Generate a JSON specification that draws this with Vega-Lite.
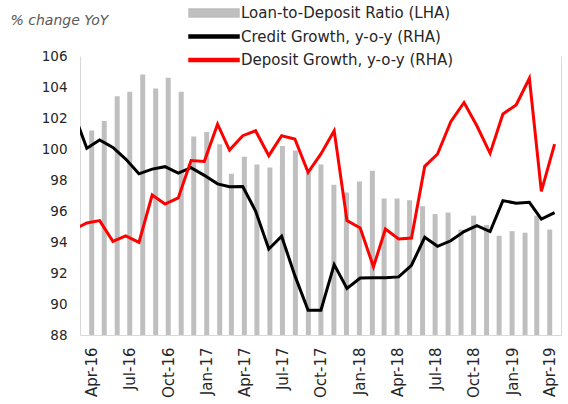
{
  "$schema": "https://vega.github.io/schema/vega-lite/v6.json",
  "width": 481,
  "height": 279,
  "autosize": {"type": "none"},
  "padding": {"left": 80, "top": 56, "right": 7, "bottom": 69},
  "config": {"view": {"stroke": null}, "font": "DejaVu Sans"},
  "datasets": {
    "ldr": [
      {"date": "2016-04-01", "value": 101.2}, {"date": "2016-05-01", "value": 101.8}, {"date": "2016-06-01", "value": 103.4},
      {"date": "2016-07-01", "value": 103.7}, {"date": "2016-08-01", "value": 104.8}, {"date": "2016-09-01", "value": 103.9},
      {"date": "2016-10-01", "value": 104.6}, {"date": "2016-11-01", "value": 103.7}, {"date": "2016-12-01", "value": 100.8},
      {"date": "2017-01-01", "value": 101.1}, {"date": "2017-02-01", "value": 100.3}, {"date": "2017-03-01", "value": 98.4},
      {"date": "2017-04-01", "value": 99.5}, {"date": "2017-05-01", "value": 99.0}, {"date": "2017-06-01", "value": 98.8},
      {"date": "2017-07-01", "value": 100.2}, {"date": "2017-08-01", "value": 99.9}, {"date": "2017-09-01", "value": 98.5},
      {"date": "2017-10-01", "value": 99.0}, {"date": "2017-11-01", "value": 97.7}, {"date": "2017-12-01", "value": 97.2},
      {"date": "2018-01-01", "value": 97.9}, {"date": "2018-02-01", "value": 98.6}, {"date": "2018-03-01", "value": 96.8},
      {"date": "2018-04-01", "value": 96.8}, {"date": "2018-05-01", "value": 96.7}, {"date": "2018-06-01", "value": 96.3},
      {"date": "2018-07-01", "value": 95.8}, {"date": "2018-08-01", "value": 95.9}, {"date": "2018-09-01", "value": 94.8},
      {"date": "2018-10-01", "value": 95.7}, {"date": "2018-11-01", "value": 95.1}, {"date": "2018-12-01", "value": 94.4},
      {"date": "2019-01-01", "value": 94.7}, {"date": "2019-02-01", "value": 94.6}, {"date": "2019-03-01", "value": 95.7},
      {"date": "2019-04-01", "value": 94.8}
    ],
    "growth": [
      {"date": "2016-03-01", "series": "Credit Growth, y-o-y  (RHA)", "value": 102.35},
      {"date": "2016-04-01", "series": "Credit Growth, y-o-y  (RHA)", "value": 100.05},
      {"date": "2016-05-01", "series": "Credit Growth, y-o-y  (RHA)", "value": 100.58},
      {"date": "2016-06-01", "series": "Credit Growth, y-o-y  (RHA)", "value": 100.1},
      {"date": "2016-07-01", "series": "Credit Growth, y-o-y  (RHA)", "value": 99.35},
      {"date": "2016-08-01", "series": "Credit Growth, y-o-y  (RHA)", "value": 98.4},
      {"date": "2016-09-01", "series": "Credit Growth, y-o-y  (RHA)", "value": 98.7},
      {"date": "2016-10-01", "series": "Credit Growth, y-o-y  (RHA)", "value": 98.86},
      {"date": "2016-11-01", "series": "Credit Growth, y-o-y  (RHA)", "value": 98.45},
      {"date": "2016-12-01", "series": "Credit Growth, y-o-y  (RHA)", "value": 98.8},
      {"date": "2017-01-01", "series": "Credit Growth, y-o-y  (RHA)", "value": 98.3},
      {"date": "2017-02-01", "series": "Credit Growth, y-o-y  (RHA)", "value": 97.75},
      {"date": "2017-03-01", "series": "Credit Growth, y-o-y  (RHA)", "value": 97.57},
      {"date": "2017-04-01", "series": "Credit Growth, y-o-y  (RHA)", "value": 97.58},
      {"date": "2017-05-01", "series": "Credit Growth, y-o-y  (RHA)", "value": 96.0},
      {"date": "2017-06-01", "series": "Credit Growth, y-o-y  (RHA)", "value": 93.55},
      {"date": "2017-07-01", "series": "Credit Growth, y-o-y  (RHA)", "value": 94.37},
      {"date": "2017-08-01", "series": "Credit Growth, y-o-y  (RHA)", "value": 91.83},
      {"date": "2017-09-01", "series": "Credit Growth, y-o-y  (RHA)", "value": 89.6},
      {"date": "2017-10-01", "series": "Credit Growth, y-o-y  (RHA)", "value": 89.6},
      {"date": "2017-11-01", "series": "Credit Growth, y-o-y  (RHA)", "value": 92.54},
      {"date": "2017-12-01", "series": "Credit Growth, y-o-y  (RHA)", "value": 91.0},
      {"date": "2018-01-01", "series": "Credit Growth, y-o-y  (RHA)", "value": 91.68},
      {"date": "2018-02-01", "series": "Credit Growth, y-o-y  (RHA)", "value": 91.7},
      {"date": "2018-03-01", "series": "Credit Growth, y-o-y  (RHA)", "value": 91.7},
      {"date": "2018-04-01", "series": "Credit Growth, y-o-y  (RHA)", "value": 91.75},
      {"date": "2018-05-01", "series": "Credit Growth, y-o-y  (RHA)", "value": 92.5},
      {"date": "2018-06-01", "series": "Credit Growth, y-o-y  (RHA)", "value": 94.3},
      {"date": "2018-07-01", "series": "Credit Growth, y-o-y  (RHA)", "value": 93.72},
      {"date": "2018-08-01", "series": "Credit Growth, y-o-y  (RHA)", "value": 94.08},
      {"date": "2018-09-01", "series": "Credit Growth, y-o-y  (RHA)", "value": 94.67},
      {"date": "2018-10-01", "series": "Credit Growth, y-o-y  (RHA)", "value": 95.05},
      {"date": "2018-11-01", "series": "Credit Growth, y-o-y  (RHA)", "value": 94.67},
      {"date": "2018-12-01", "series": "Credit Growth, y-o-y  (RHA)", "value": 96.67},
      {"date": "2019-01-01", "series": "Credit Growth, y-o-y  (RHA)", "value": 96.5},
      {"date": "2019-02-01", "series": "Credit Growth, y-o-y  (RHA)", "value": 96.56},
      {"date": "2019-03-01", "series": "Credit Growth, y-o-y  (RHA)", "value": 95.48},
      {"date": "2019-04-01", "series": "Credit Growth, y-o-y  (RHA)", "value": 95.9},
      {"date": "2016-03-01", "series": "Deposit Growth, y-o-y (RHA)", "value": 94.8},
      {"date": "2016-04-01", "series": "Deposit Growth, y-o-y (RHA)", "value": 95.23},
      {"date": "2016-05-01", "series": "Deposit Growth, y-o-y (RHA)", "value": 95.38},
      {"date": "2016-06-01", "series": "Deposit Growth, y-o-y (RHA)", "value": 94.04},
      {"date": "2016-07-01", "series": "Deposit Growth, y-o-y (RHA)", "value": 94.4},
      {"date": "2016-08-01", "series": "Deposit Growth, y-o-y (RHA)", "value": 93.98},
      {"date": "2016-09-01", "series": "Deposit Growth, y-o-y (RHA)", "value": 97.03},
      {"date": "2016-10-01", "series": "Deposit Growth, y-o-y (RHA)", "value": 96.45},
      {"date": "2016-11-01", "series": "Deposit Growth, y-o-y (RHA)", "value": 96.84},
      {"date": "2016-12-01", "series": "Deposit Growth, y-o-y (RHA)", "value": 99.25},
      {"date": "2017-01-01", "series": "Deposit Growth, y-o-y (RHA)", "value": 99.2},
      {"date": "2017-02-01", "series": "Deposit Growth, y-o-y (RHA)", "value": 101.6},
      {"date": "2017-03-01", "series": "Deposit Growth, y-o-y (RHA)", "value": 99.93},
      {"date": "2017-04-01", "series": "Deposit Growth, y-o-y (RHA)", "value": 100.86},
      {"date": "2017-05-01", "series": "Deposit Growth, y-o-y (RHA)", "value": 101.18},
      {"date": "2017-06-01", "series": "Deposit Growth, y-o-y (RHA)", "value": 99.57},
      {"date": "2017-07-01", "series": "Deposit Growth, y-o-y (RHA)", "value": 100.86},
      {"date": "2017-08-01", "series": "Deposit Growth, y-o-y (RHA)", "value": 100.65},
      {"date": "2017-09-01", "series": "Deposit Growth, y-o-y (RHA)", "value": 98.5},
      {"date": "2017-10-01", "series": "Deposit Growth, y-o-y (RHA)", "value": 99.68},
      {"date": "2017-11-01", "series": "Deposit Growth, y-o-y (RHA)", "value": 101.18},
      {"date": "2017-12-01", "series": "Deposit Growth, y-o-y (RHA)", "value": 95.38},
      {"date": "2018-01-01", "series": "Deposit Growth, y-o-y (RHA)", "value": 94.9},
      {"date": "2018-02-01", "series": "Deposit Growth, y-o-y (RHA)", "value": 92.4},
      {"date": "2018-03-01", "series": "Deposit Growth, y-o-y (RHA)", "value": 94.84},
      {"date": "2018-04-01", "series": "Deposit Growth, y-o-y (RHA)", "value": 94.2},
      {"date": "2018-05-01", "series": "Deposit Growth, y-o-y (RHA)", "value": 94.26},
      {"date": "2018-06-01", "series": "Deposit Growth, y-o-y (RHA)", "value": 98.88},
      {"date": "2018-07-01", "series": "Deposit Growth, y-o-y (RHA)", "value": 99.68},
      {"date": "2018-08-01", "series": "Deposit Growth, y-o-y (RHA)", "value": 101.76},
      {"date": "2018-09-01", "series": "Deposit Growth, y-o-y (RHA)", "value": 103.0},
      {"date": "2018-10-01", "series": "Deposit Growth, y-o-y (RHA)", "value": 101.5},
      {"date": "2018-11-01", "series": "Deposit Growth, y-o-y (RHA)", "value": 99.72},
      {"date": "2018-12-01", "series": "Deposit Growth, y-o-y (RHA)", "value": 102.26},
      {"date": "2019-01-01", "series": "Deposit Growth, y-o-y (RHA)", "value": 102.84},
      {"date": "2019-02-01", "series": "Deposit Growth, y-o-y (RHA)", "value": 104.56},
      {"date": "2019-03-01", "series": "Deposit Growth, y-o-y (RHA)", "value": 97.27},
      {"date": "2019-04-01", "series": "Deposit Growth, y-o-y (RHA)", "value": 100.32}
    ]
  },
  "layer": [
    {
      "data": {"name": "ldr"},
      "mark": {"type": "bar", "width": 5},
      "encoding": {
        "x": {
          "field": "date", "type": "temporal",
          "scale": {"type": "utc", "nice": false, "domain": [1458086400000, 1555372800000]},
          "axis": {
            "title": null, "format": "%b-%y", "labelAngle": -90, "labelFontSize": 15, "labelColor": "#262626",
            "ticks": false, "grid": false, "domainColor": "#d9d9d9", "labelPadding": 12,
            "values": [
              {"year": 2016, "month": 4, "date": 1, "utc": true}, {"year": 2016, "month": 7, "date": 1, "utc": true},
              {"year": 2016, "month": 10, "date": 1, "utc": true}, {"year": 2017, "month": 1, "date": 1, "utc": true},
              {"year": 2017, "month": 4, "date": 1, "utc": true}, {"year": 2017, "month": 7, "date": 1, "utc": true},
              {"year": 2017, "month": 10, "date": 1, "utc": true}, {"year": 2018, "month": 1, "date": 1, "utc": true},
              {"year": 2018, "month": 4, "date": 1, "utc": true}, {"year": 2018, "month": 7, "date": 1, "utc": true},
              {"year": 2018, "month": 10, "date": 1, "utc": true}, {"year": 2019, "month": 1, "date": 1, "utc": true},
              {"year": 2019, "month": 4, "date": 1, "utc": true}
            ]
          }
        },
        "y": {
          "field": "value", "type": "quantitative",
          "scale": {"domain": [88, 106], "zero": false, "nice": false},
          "axis": {
            "values": [88, 90, 92, 94, 96, 98, 100, 102, 104, 106], "labelFontSize": 13.5, "labelColor": "#262626",
            "ticks": false, "grid": false, "domainColor": "#d9d9d9", "labelPadding": 13,
            "title": "% change YoY", "titleAngle": 0, "titleAlign": "left", "titleBaseline": "alphabetic",
            "titleX": -70, "titleY": -32, "titleFontStyle": "italic", "titleFontWeight": "normal",
            "titleFontSize": 14, "titleColor": "#595959"
          }
        },
        "y2": {"datum": 88},
        "color": {
          "datum": "Loan-to-Deposit Ratio (LHA)",
          "type": "nominal",
          "title": null,
          "scale": {
            "domain": ["Loan-to-Deposit Ratio (LHA)", "Credit Growth, y-o-y  (RHA)", "Deposit Growth, y-o-y (RHA)"],
            "range": ["#bfbfbf", "#000000", "#ff0000"]
          },
          "legend": {
            "title": null, "orient": "none", "legendX": 108, "legendY": -54, "padding": 0,
            "labelFontSize": 15, "labelColor": "#262626", "labelOffset": 31, "rowPadding": 4.5, "labelLimit": 500,
            "symbolSize": 400,
            "encode": {
              "symbols": {
                "update": {
                  "shape": {"signal": "datum.index === 0 ? 'M-1,-0.4L4,-0.4L4,0.4L-1,0.4Z' : 'M-1,-0.16L4,-0.16L4,0.16L-1,0.16Z'"},
                  "fill": {"scale": "color", "field": "value"},
                  "stroke": {"value": "transparent"},
                  "opacity": {"value": 1},
                  "fillOpacity": {"value": 1}
                }
              }
            }
          }
        }
      }
    },
    {
      "data": {"name": "growth"},
      "mark": {"type": "line", "strokeWidth": 3, "clip": true},
      "encoding": {
        "x": {
          "field": "date", "type": "temporal",
          "scale": {"type": "utc", "nice": false, "domain": [1458086400000, 1555372800000]},
          "axis": null
        },
        "y": {
          "field": "value", "type": "quantitative",
          "scale": {"domain": [88, 106], "zero": false, "nice": false},
          "axis": {"orient": "right", "labels": false, "ticks": false, "grid": false, "domainColor": "#d9d9d9", "title": null}
        },
        "color": {"field": "series", "type": "nominal", "title": null}
      }
    }
  ],
  "resolve": {"scale": {"x": "independent", "y": "independent"}}
}
